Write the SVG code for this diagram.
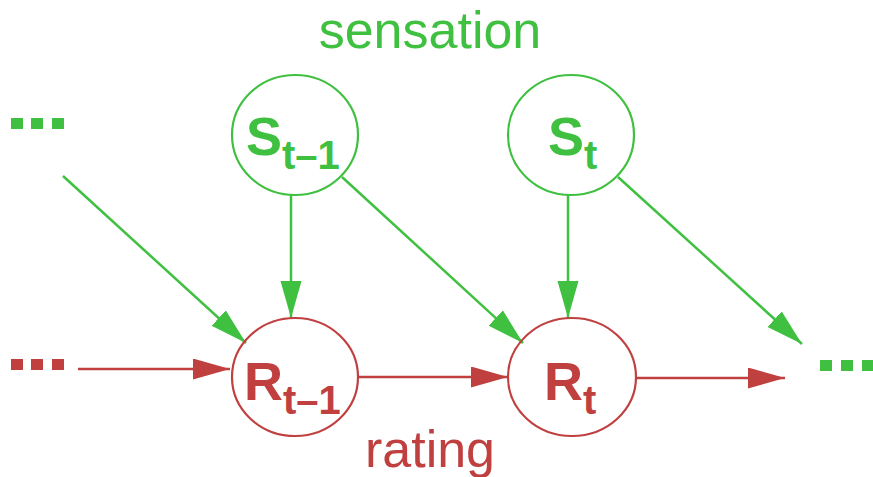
<svg xmlns="http://www.w3.org/2000/svg" width="873" height="477" viewBox="0 0 873 477">
<style>
.g{stroke:#40C040;fill:none}
.r{stroke:#C04040;fill:none}
.node{stroke-width:2.2}
.edge{stroke-width:2.5}
.lbl{font-family:"Liberation Sans",Arial,sans-serif;font-weight:bold;font-size:54px}
.sub{font-size:40px}
.cap{font-family:"Liberation Sans",Arial,sans-serif;font-size:52px;text-anchor:middle}
</style>
<defs>
<marker id="ag" markerUnits="userSpaceOnUse" markerWidth="38" markerHeight="22" refX="37" refY="10.5" orient="auto"><path d="M0,0 L37,10.5 L0,21 z" fill="#40C040"/></marker>
<marker id="ar" markerUnits="userSpaceOnUse" markerWidth="38" markerHeight="22" refX="37" refY="10.5" orient="auto"><path d="M0,0 L37,10.5 L0,21 z" fill="#C04040"/></marker>
</defs>
<rect width="873" height="477" fill="#fff"/>
<text class="cap" x="430" y="48" fill="#40C040">sensation</text>
<text class="cap" x="430" y="467" fill="#C04040">rating</text>
<g id="dots-left-green" fill="#40C040"><rect x="11" y="118" width="12" height="11"/><rect x="31" y="118" width="12" height="11"/><rect x="52" y="118" width="12" height="11"/></g>
<g id="dots-left-red" fill="#C04040"><rect x="11" y="359" width="12" height="11"/><rect x="31" y="359" width="12" height="11"/><rect x="52" y="359" width="12" height="11"/></g>
<g id="dots-right-green" fill="#40C040"><rect x="820" y="360" width="12" height="11"/><rect x="841" y="360" width="12" height="11"/><rect x="862" y="360" width="12" height="11"/></g>
<g id="connectors">
<line class="g edge" x1="63" y1="176" x2="246" y2="343" marker-end="url(#ag)"/>
<line class="g edge" x1="291" y1="195" x2="291" y2="318" marker-end="url(#ag)"/>
<line class="g edge" x1="342" y1="177" x2="523" y2="343" marker-end="url(#ag)"/>
<line class="g edge" x1="568" y1="195" x2="568" y2="318" marker-end="url(#ag)"/>
<line class="g edge" x1="618" y1="177" x2="802" y2="344" marker-end="url(#ag)"/>
<line class="r edge" x1="78" y1="369" x2="230" y2="369" marker-end="url(#ar)"/>
<line class="r edge" x1="358" y1="377" x2="508" y2="377" marker-end="url(#ar)"/>
<line class="r edge" x1="637" y1="378" x2="785" y2="378" marker-end="url(#ar)"/>
</g>
<g id="S_t-1">
<ellipse class="g node" cx="295" cy="135" rx="63" ry="60"/>
<text class="lbl" x="246" y="155" fill="#40C040">S<tspan class="sub" dy="14">t–1</tspan></text>
</g>
<g id="S_t">
<ellipse class="g node" cx="571" cy="135" rx="63" ry="60"/>
<text class="lbl" x="548" y="155" fill="#40C040">S<tspan class="sub" dy="14">t</tspan></text>
</g>
<g id="R_t-1">
<ellipse class="r node" cx="295" cy="377" rx="63" ry="59"/>
<text class="lbl" x="244" y="400" fill="#C04040">R<tspan class="sub" dy="14">t–1</tspan></text>
</g>
<g id="R_t">
<ellipse class="r node" cx="572" cy="377" rx="64" ry="59"/>
<text class="lbl" x="544" y="400" fill="#C04040">R<tspan class="sub" dy="14">t</tspan></text>
</g>
</svg>
